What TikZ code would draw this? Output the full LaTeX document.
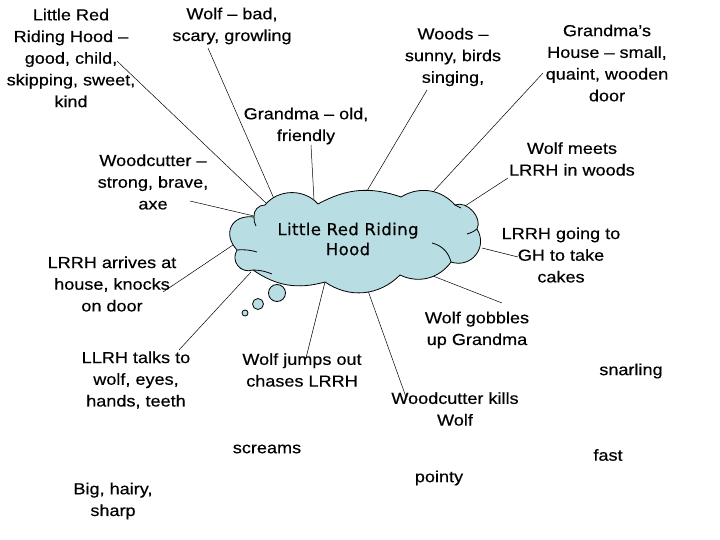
\documentclass[tikz,border=0pt]{standalone}
\usepackage{fontspec}
\setmainfont{Liberation Sans}[FakeStretch=1.13, FakeBold=0.35]
\newfontfamily\cloudfont{DejaVu Sans}[LetterSpace=2.5, FakeBold=0.3]
\definecolor{cloudblue}{RGB}{184,221,227}
\tikzset{
  lbl/.style={align=center, inner sep=0pt, font=\fontsize{16}{21.7}\selectfont},
  link/.style={draw, line width=0.5pt},
  puff/.style={draw, fill=cloudblue, line width=0.8pt},
  crease/.style={draw, line width=0.8pt},
}

\begin{document}
\begin{tikzpicture}[x=1pt, y=-1pt]
  \useasboundingbox[fill=white] (0,0) rectangle (720,540);
  % labels round the cloud
  \node[lbl] (lrrh) at (71,58) {Little Red\\Riding Hood –\\good, child,\\skipping, sweet,\\kind};
  \node[lbl] (wolf) at (232,26) {Wolf – bad,\\scary, growling};
  \node[lbl] (woods) at (453,57) {Woods –\\sunny, birds\\singing,};
  \node[lbl] (ghouse) at (607,63) {Grandma’s\\House – small,\\quaint, wooden\\door};
  \node[lbl] (gma) at (306,126) {Grandma – old,\\friendly};
  \node[lbl] (meets) at (572,159) {Wolf meets\\LRRH in woods};
  \node[lbl] (wcut) at (153,182) {Woodcutter –\\strong, brave,\\axe};
  \node[lbl] (going) at (561,255) {LRRH going to\\GH to take\\cakes};
  \node[lbl] (arrives) at (112,284) {LRRH arrives at\\house, knocks\\on door};
  \node[lbl] (gobbles) at (477,330) {Wolf gobbles\\up Grandma};
  \node[lbl] (snarl) at (631,371) {snarling};
  \node[lbl] (talks) at (136,380) {LLRH talks to\\wolf, eyes,\\hands, teeth};
  \node[lbl] (jumps) at (302,370) {Wolf jumps out\\chases LRRH};
  \node[lbl] (kills) at (455,409) {Woodcutter kills\\Wolf};
  \node[lbl] (screams) at (267,449) {screams};
  \node[lbl] (fast) at (608,455) {fast};
  \node[lbl] (pointy) at (439,478) {pointy};
  \node[lbl] (hairy) at (113,501) {Big, hairy,\\sharp};

  % ends of the links
  \coordinate (lrrh-e) at (117,61);   \coordinate (cl-lrrh) at (267,204);
  \coordinate (wolf-e) at (208,48);   \coordinate (cl-wolf) at (275,201);
  \coordinate (gma-e) at (311,145);   \coordinate (cl-gma) at (314,200);
  \coordinate (wcut-e) at (190,201);  \coordinate (cl-wcut) at (254,216);
  \coordinate (woods-e) at (427,90);  \coordinate (cl-woods) at (364,196);
  \coordinate (ghouse-e) at (543,73); \coordinate (cl-ghouse) at (433,192);
  \coordinate (meets-e) at (508,178); \coordinate (cl-meets) at (465,206);
  \coordinate (going-e) at (518,257); \coordinate (cl-going) at (482,248);
  \coordinate (gobbles-e) at (502,303); \coordinate (cl-gobbles) at (433,276);
  \coordinate (kills-e) at (406,397); \coordinate (cl-kills) at (367,288);
  \coordinate (jumps-e) at (306,358); \coordinate (cl-jumps) at (325,282);
  \coordinate (talks-e) at (179,350); \coordinate (cl-talks) at (251,272);
  \coordinate (arrives-e) at (163,292); \coordinate (cl-arrives) at (233,245);
  \foreach \n in {lrrh,wolf,gma,wcut,woods,ghouse,meets,going,gobbles,kills,jumps,talks,arrives}
    \draw[link] (\n-e) -- (cl-\n);

  % the cloud
  \path[puff] (265,205)
    to[bend left=50] (318,204)
    to[bend left=24] (401,197)
    to[bend left=40] (455,205)
    to[bend left=70] (477,229)
    to[bend left=70, looseness=1.3] (451,262)
    to[bend left=40] (400,275)
    to[bend left=40] (325,282)
    to[bend left=25] (253,270)
    to[bend left=70, looseness=1.3] (237,250)
    to[bend left=70, looseness=1.55] (254,217)
    to[bend left=50] (265,205) -- cycle;
  \draw[crease] (254,217) to[bend right=15] (256,226);
  \draw[crease] (237,250) to[bend left=10] (257,252);
  \draw[crease] (253,270) to[bend left=10] (272,274);
  \draw[crease] (432,243) to[bend left=30] (451,262);
  \draw[crease] (477,229) to[bend left=10] (467,234);
  \draw[crease] (455,205) to (461,208);
  \filldraw[puff] (277,293) circle[radius=8.5];
  \filldraw[puff] (258,304) circle[radius=5.5];
  \filldraw[puff] (245,313) circle[radius=3];
  \node[font=\cloudfont\fontsize{16.5}{20}\selectfont, align=center, inner sep=0pt] (title) at (348,239) {Little Red Riding\\Hood};
\end{tikzpicture}
\end{document}
